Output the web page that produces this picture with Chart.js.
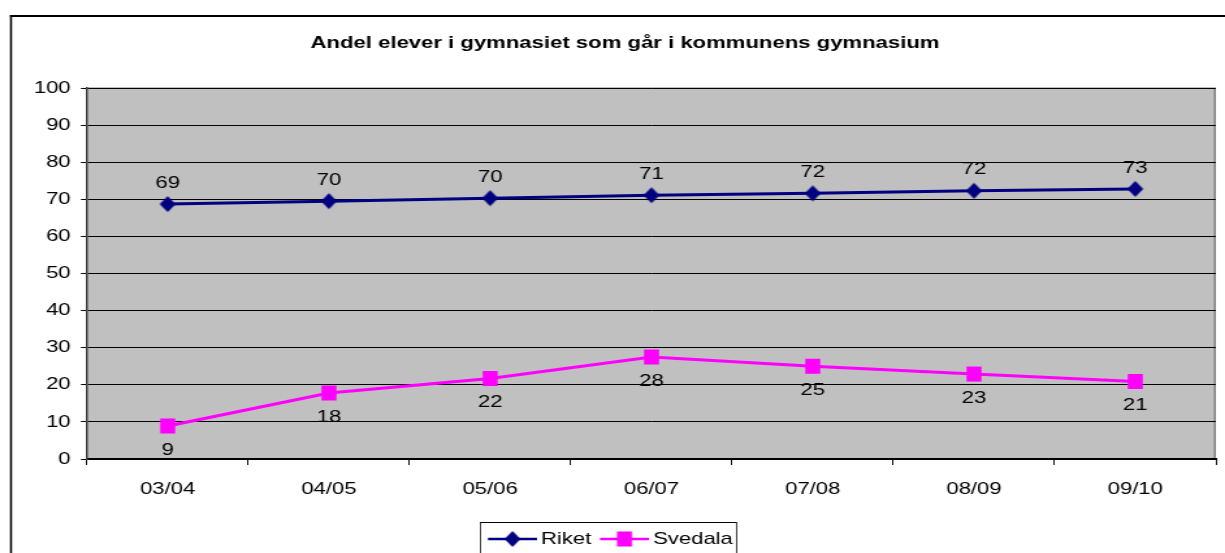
<!DOCTYPE html>
<html>
<head>
<meta charset="utf-8">
<script src="https://cdn.jsdelivr.net/npm/chart.js@4/dist/chart.umd.min.js"></script>
<style>
html,body{margin:0;padding:0;background:#fff;overflow:hidden;}
#wrap{width:1225px;height:553px;position:relative;overflow:hidden;}
#c{transform-origin:0 0;}
</style>
</head>
<body>
<div id="wrap"><canvas id="c"></canvas></div>
<script>
const titleText = 'Andel elever i gymnasiet som går i kommunens gymnasium';
const categories = ['03/04','04/05','05/06','06/07','07/08','08/09','09/10'];
const riket = [68.7, 69.5, 70.3, 71.1, 71.6, 72.3, 72.8];
const svedala = [8.9, 17.8, 21.7, 27.5, 25.0, 22.9, 20.9];
const seriesNames = ['Riket', 'Svedala'];
const yTicks = [0,10,20,30,40,50,60,70,80,90,100];

const FONT = '"Liberation Sans", Arial, sans-serif';
const W = 942, H = 553;
const S = 1225 / W;          // horizontal stretch (reference is widened)
const X = v => v / S;        // target x -> canvas x

const cv = document.getElementById('c');
cv.width = W; cv.height = H;
cv.style.transform = 'scaleX(' + S + ')';

function markerImage(kind, color) {
  const c = document.createElement('canvas');
  const hw = kind === 'diamond' ? 8 : 7.5;   // half-size in target pixels
  c.width = Math.ceil(2 * hw / S) + 2;
  c.height = Math.ceil(2 * hw) + 2;
  const g = c.getContext('2d');
  const cx = c.width / 2, cy = c.height / 2, rx = hw / S, ry = hw;
  g.fillStyle = color;
  g.beginPath();
  if (kind === 'diamond') {
    g.moveTo(cx - rx, cy); g.lineTo(cx, cy - ry); g.lineTo(cx + rx, cy); g.lineTo(cx, cy + ry);
  } else {
    g.rect(cx - rx, cy - ry, 2 * rx, 2 * ry);
  }
  g.closePath();
  g.fill();
  return c;
}

const decor = {
  id: 'decor',
  beforeDraw(chart) {
    const {ctx, chartArea: a} = chart;
    ctx.save();
    ctx.fillStyle = '#fff';
    ctx.fillRect(0, 0, chart.width, chart.height);
    // outer border
    ctx.fillStyle = '#000';
    ctx.fillRect(X(10), 15, chart.width, 2);
    ctx.fillRect(X(10), 15, X(2), chart.height);
    // plot background
    ctx.fillStyle = '#C0C0C0';
    ctx.fillRect(a.left, a.top, a.right - a.left, a.bottom - a.top);
    // plot border (top/right)
    ctx.fillStyle = '#808080';
    ctx.fillRect(a.left, a.top - 0.5, a.right - a.left, 1.5);
    ctx.fillRect(a.right - X(2), a.top, X(2), a.bottom - a.top);
    ctx.restore();
  },
  afterDraw(chart) {
    const ctx = chart.ctx;
    ctx.save();
    // title
    ctx.fillStyle = '#000';
    ctx.font = 'bold 17px ' + FONT;
    ctx.textAlign = 'center';
    ctx.textBaseline = 'middle';
    ctx.fillText(titleText, X(625), 43);
    // data labels
    ctx.font = '17px ' + FONT;
    chart.data.datasets.forEach((ds, i) => {
      const meta = chart.getDatasetMeta(i);
      meta.data.forEach((pt, j) => {
        const v = Math.round(ds.data[j]);
        const dy = i === 0 ? -21 : 24;
        ctx.fillText(String(v), pt.x, pt.y + dy);
      });
    });
    // legend
    const lx = X(480), ly = 522, lw = X(256), lh = 40;
    ctx.fillStyle = '#000';
    ctx.fillRect(lx, ly, lw, 1);
    ctx.fillRect(lx, ly, X(1), lh);
    ctx.fillRect(lx + lw, ly, X(1), lh);
    const items = [
      {name: seriesNames[0], color: '#000080', x0: 488, kind: 'diamond', tx: 541},
      {name: seriesNames[1], color: '#FF00FF', x0: 600, kind: 'square', tx: 653}
    ];
    const cy = 539;
    items.forEach(it => {
      ctx.strokeStyle = it.color;
      ctx.lineWidth = 2.5;
      ctx.beginPath();
      ctx.moveTo(X(it.x0), cy);
      ctx.lineTo(X(it.x0 + 49), cy);
      ctx.stroke();
      const img = markerImage(it.kind, it.color);
      ctx.drawImage(img, X(it.x0 + 24.5) - img.width / 2, cy - img.height / 2);
      ctx.fillStyle = '#000';
      ctx.font = '17px ' + FONT;
      ctx.textAlign = 'left';
      ctx.textBaseline = 'middle';
      ctx.fillText(it.name, X(it.tx), cy);
    });
    ctx.restore();
  }
};

new Chart(cv, {
  type: 'line',
  data: {
    labels: categories,
    datasets: [
      {
        label: seriesNames[0], data: riket,
        borderColor: '#000080', backgroundColor: '#000080',
        borderWidth: 3, pointStyle: markerImage('diamond', '#000080'),
        tension: 0
      },
      {
        label: seriesNames[1], data: svedala,
        borderColor: '#FF00FF', backgroundColor: '#FF00FF',
        borderWidth: 3, pointStyle: markerImage('square', '#FF00FF'),
        tension: 0
      }
    ]
  },
  options: {
    responsive: false,
    animation: false,
    devicePixelRatio: 1,
    events: [],
    layout: { padding: { left: X(87) - 60, top: 88, right: X(3), bottom: 54 } },
    plugins: { legend: { display: false }, title: { display: false }, tooltip: { enabled: false } },
    scales: {
      x: {
        offset: true,
        afterFit(s) { s.height = 40; },
        grid: { offset: true, drawOnChartArea: false, drawTicks: true, tickLength: 6, color: '#000', lineWidth: X(1.2) },
        border: { display: true, color: '#000', width: 2 },
        ticks: { color: '#000', font: { family: FONT, size: 17 }, padding: 14, maxRotation: 0 }
      },
      y: {
        min: 0, max: 100,
        afterFit(s) { s.width = 60; },
        afterBuildTicks(s) { s.ticks = yTicks.map(v => ({value: v})); },
        grid: { color: '#000', lineWidth: 1, tickLength: X(6), drawTicks: true },
        border: { display: true, color: '#404040', width: X(2) },
        ticks: { color: '#000', font: { family: FONT, size: 17 }, padding: 8 }
      }
    }
  },
  plugins: [decor]
});
</script>
</body>
</html>
